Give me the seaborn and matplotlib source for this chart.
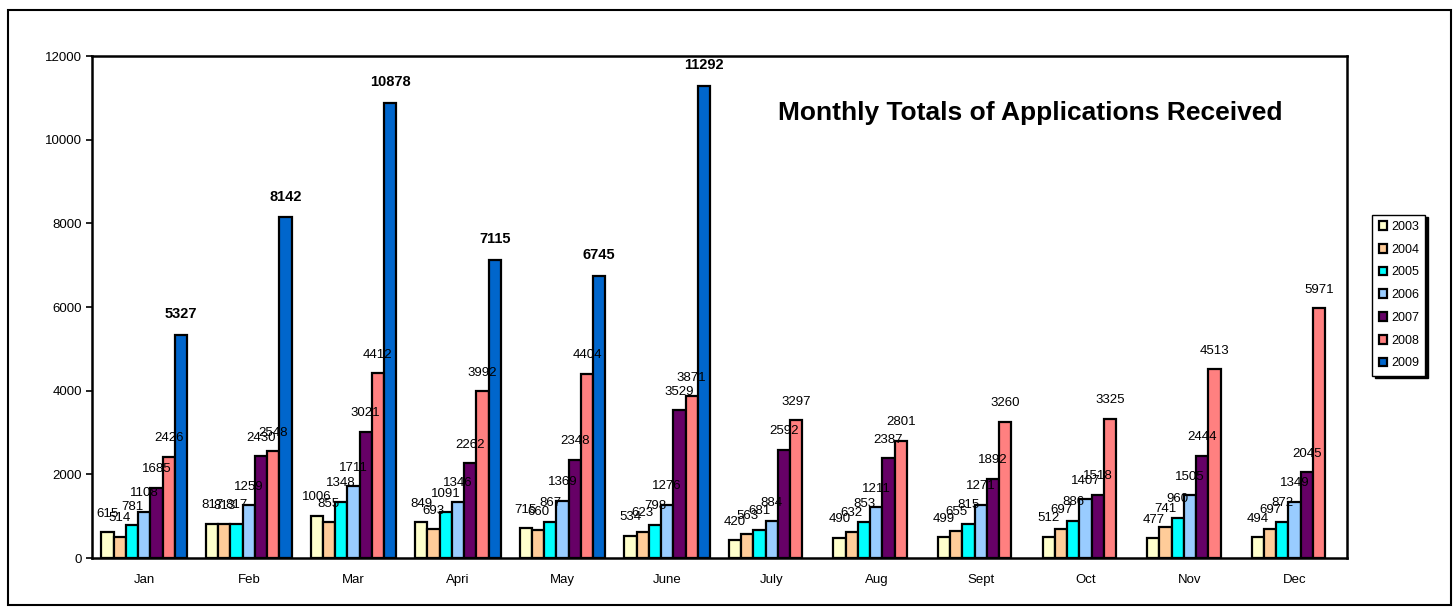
import numpy as np
import pandas as pd
import matplotlib
matplotlib.use("Agg")
import matplotlib.pyplot as plt
from matplotlib.patches import Rectangle
import seaborn as sns

months = ["Jan", "Feb", "Mar", "Apri", "May", "June", "July", "Aug", "Sept", "Oct", "Nov", "Dec"]
years = ["2003", "2004", "2005", "2006", "2007", "2008", "2009"]

y2003 = [615, 817, 1006, 849, 715, 534, 420, 490, 499, 512, 477, 494]
y2004 = [514, 813, 855, 693, 660, 623, 563, 632, 655, 697, 741, 697]
y2005 = [781, 817, 1348, 1091, 867, 798, 681, 853, 815, 886, 960, 872]
y2006 = [1108, 1259, 1711, 1346, 1369, 1276, 884, 1211, 1271, 1407, 1505, 1349]
y2007 = [1685, 2430, 3021, 2262, 2348, 3529, 2592, 2387, 1892, 1518, 2444, 2045]
y2008 = [2426, 2548, 4412, 3992, 4404, 3871, 3297, 2801, 3260, 3325, 4513, 5971]
y2009 = [5327, 8142, 10878, 7115, 6745, 11292, np.nan, np.nan, np.nan, np.nan, np.nan, np.nan]

colors = ["#FFFFCC", "#FFCC99", "#00FFFF", "#99CCFF", "#660066", "#FF8080", "#0066CC"]

series = [y2003, y2004, y2005, y2006, y2007, y2008, y2009]
rows = []
for yr, vals in zip(years, series):
    for m, v in zip(months, vals):
        if not np.isnan(v):
            rows.append({"Month": m, "Year": yr, "Count": v})
df = pd.DataFrame(rows)

sns.set_style("white")
plt.rcParams["font.family"] = ["Liberation Sans", "DejaVu Sans"]
plt.rcParams["text.color"] = "black"
plt.rcParams["xtick.color"] = "black"
plt.rcParams["ytick.color"] = "black"

fig = plt.figure(figsize=(14.55, 6.07), dpi=100)
ax = fig.add_axes([0.0632, 0.0807, 0.8625, 0.827])

sns.barplot(data=df, x="Month", y="Count", hue="Year", order=months, hue_order=years,
            palette=colors, width=0.82, edgecolor="black", linewidth=1.6,
            saturation=1, ax=ax)

handles, labels = ax.get_legend_handles_labels()
ax.legend_.remove()

for i, cont in enumerate(ax.containers):
    labs = [f"{int(round(b.get_height()))}" for b in cont]
    if years[i] == "2009":
        ax.bar_label(cont, labels=labs, padding=10, fontsize=10.5, fontweight="bold",
                     color="black")
    else:
        ax.bar_label(cont, labels=labs, padding=9, fontsize=9.5, color="black")

ax.set_ylim(0, 12000)
ax.set_yticks(range(0, 12001, 2000))
ax.set_xlim(-0.5, 11.5)
ax.set_xlabel("")
ax.set_ylabel("")
ax.tick_params(axis="y", left=True, length=4, width=1.2, labelsize=9.5, direction="out",
               pad=3)
ax.tick_params(axis="x", bottom=False, labelsize=9.5, pad=8)
for s in ax.spines.values():
    s.set_visible(True)
    s.set_color("black")
    s.set_linewidth(1.8)

ax.text(0.748, 0.886, "Monthly Totals of Applications Received", transform=ax.transAxes,
        ha="center", va="center", fontsize=19, fontweight="bold", color="black")

fig.legend(handles, labels, loc="center", bbox_to_anchor=(0.9615, 0.514),
           fontsize=9, frameon=True, fancybox=False,
           shadow={"color": "black", "alpha": 1}, edgecolor="black",
           handlelength=0.7, handleheight=0.7, handletextpad=0.3, labelspacing=0.86,
           borderpad=0.5)

fig.patches.append(Rectangle((0.0055, 0.003), 0.992, 0.9805, transform=fig.transFigure,
                             fill=False, edgecolor="black", linewidth=1.5))

fig.savefig("out.png", dpi=100)
